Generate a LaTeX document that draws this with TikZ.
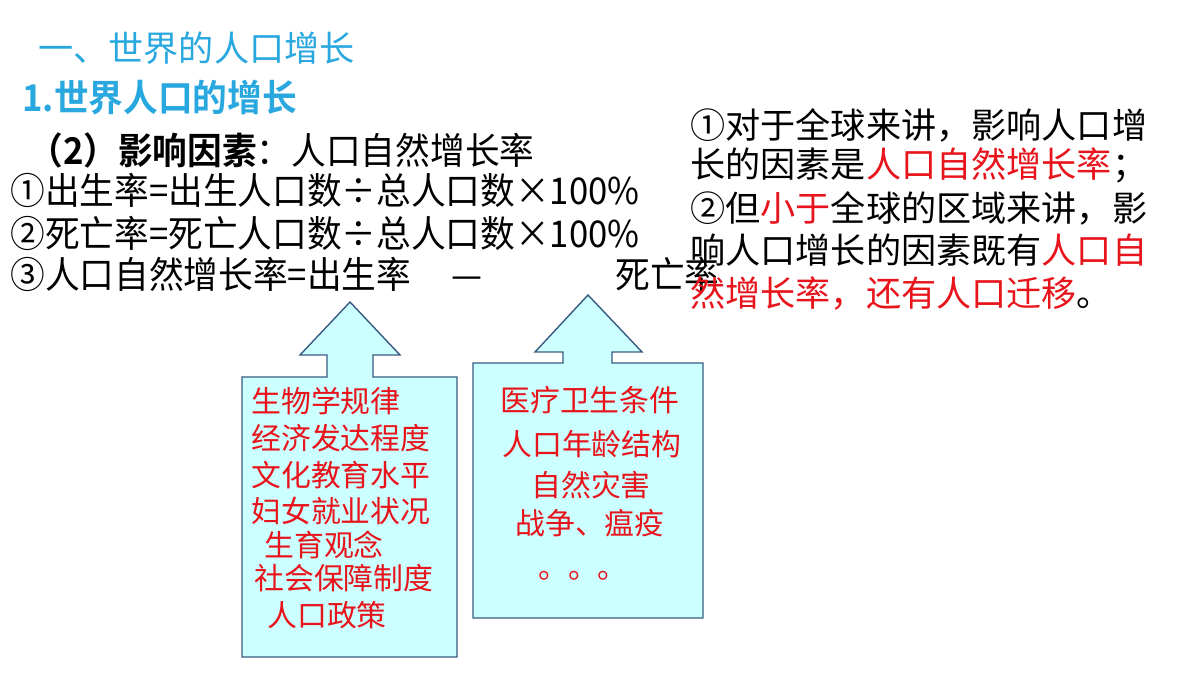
\documentclass[tikz,border=0pt]{standalone}
\usepackage{fontspec}
\setmainfont{Noto Sans CJK SC}
\newfontfamily\cjkb{Noto Sans CJK SC Bold}
\newfontfamily\cjkn[FakeStretch=0.94]{Noto Sans CJK SC}
\newfontfamily\cjknb[FakeStretch=0.94]{Noto Sans CJK SC Bold}
\begin{document}
\begin{tikzpicture}[x=0.02cm,y=-0.02cm,
  txt/.style={anchor=west,inner sep=0pt,font=\cjkn\fontsize{21}{25}\selectfont},
  rt/.style={anchor=west,inner sep=0pt,font=\fontsize{20}{24}\selectfont},
  red/.style={anchor=west,inner sep=0pt,text=redc,font=\fontsize{17}{20}\selectfont},
  callout/.style={draw=edgec,fill=cyanc,line width=0.8pt}]
\definecolor{titlec}{HTML}{29A8E0}
\definecolor{redc}{HTML}{E8141C}
\definecolor{cyanc}{HTML}{CCFFFF}
\definecolor{edgec}{HTML}{3A5B80}
\useasboundingbox (0,0) rectangle (1200,675);
\fill[white] (0,0) rectangle (1200,675);
\node[anchor=west,inner sep=0pt,text=titlec,font=\fontsize{20}{24}\selectfont] (t1) at (38,48) {一、世界的人口增长};
\node[anchor=west,inner sep=0pt,text=titlec,font=\cjknb\fontsize{21}{25}\selectfont] (t2) at (22,98) {1.世界人口的增长};
\node[txt] (l1) at (28,150) {{\cjknb（2）影响因素}：人口自然增长率};
\node[txt] (l2) at (10,190) {①出生率=出生人口数÷总人口数×100\%};
\node[txt] (l3) at (10,233) {②死亡率=死亡人口数÷总人口数×100\%};
\node[txt] (l4) at (10,274) {③人口自然增长率=出生率\hspace{1.1em}—\hspace{3.6em}死亡率};
\node[rt] (r1) at (690,125) {①对于全球来讲，影响人口增};
\node[rt] (r2) at (690,165) {长的因素是\textcolor{redc}{人口自然增长率}；};
\node[rt] (r3) at (690,208) {②但\textcolor{redc}{小于}全球的区域来讲，影};
\node[rt] (r4) at (690,250) {响人口增长的因素既有\textcolor{redc}{人口自}};
\node[rt] (r5) at (690,293) {\textcolor{redc}{然增长率，还有人口迁移}。};
\draw[callout] (242,377) -- (327,377) -- (327,355) -- (300,355) -- (350,302) -- (400,355) -- (373,355) -- (373,377) -- (457,377) -- (457,657) -- (242,657) -- cycle;
\draw[callout] (473,363) -- (563,363) -- (563,352) -- (535,352) -- (588,295) -- (642,352) -- (612,352) -- (612,363) -- (703,363) -- (703,618) -- (473,618) -- cycle;
\node[red] (a1) at (251,401) {生物学规律};
\node[red] (a2) at (251,438) {经济发达程度};
\node[red] (a3) at (251,475) {文化教育水平};
\node[red] (a4) at (251,511) {妇女就业状况};
\node[red] (a5) at (264,545) {生育观念};
\node[red] (a6) at (254,578) {社会保障制度};
\node[red] (a7) at (267,615) {人口政策};
\node[red] (b1) at (500,400) {医疗卫生条件};
\node[red] (b2) at (502,444) {人口年龄结构};
\node[red] (b3) at (531,485) {自然灾害};
\node[red] (b4) at (515,523) {战争、瘟疫};
\node[anchor=center,inner sep=0pt,text=redc,font=\fontsize{17}{20}\selectfont] (b5) at (583,576) {。。。};
\end{tikzpicture}
\end{document}
